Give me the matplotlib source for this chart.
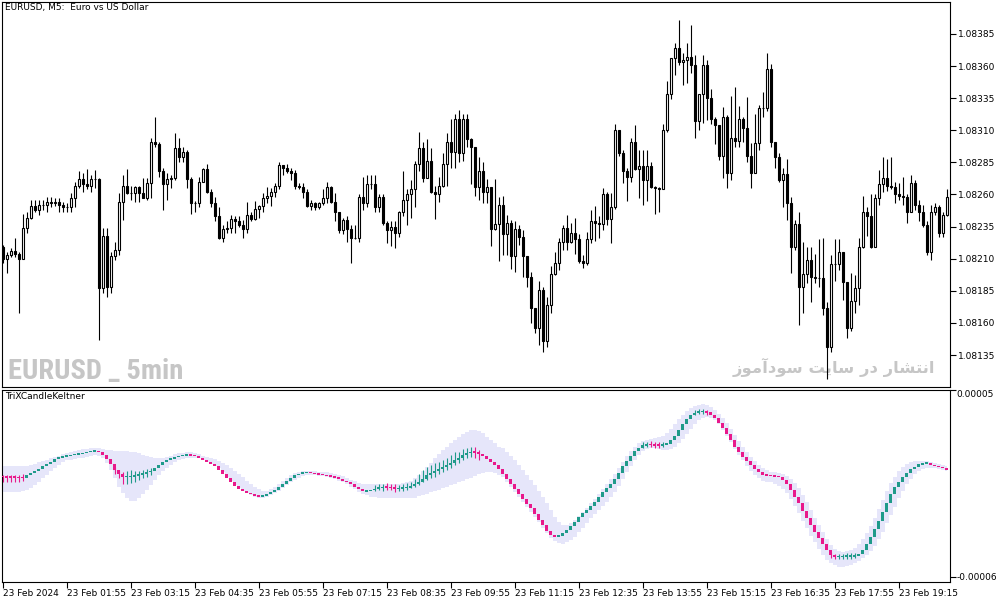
import numpy as np
import matplotlib.pyplot as plt
from matplotlib import font_manager

# EURUSD M5 candles, prices in points above 1.08000 (1 point = 0.00001)
first_open = 219
close_pts = [210, 213, 216, 214, 210, 234, 242, 251, 248, 252, 252, 254, 253, 254, 252, 250, 250, 257, 267, 272,
             268, 267, 272, 272, 187, 228, 188, 212, 217, 254, 267, 261, 261, 266, 261, 257, 269, 301, 299, 278,
             268, 272, 273, 296, 289, 293, 272, 253, 253, 270, 280, 262, 253, 243, 226, 233, 234, 241, 239, 236,
             233, 244, 241, 249, 251, 257, 259, 262, 267, 283, 281, 278, 277, 267, 266, 262, 251, 253, 250, 253,
             257, 266, 254, 246, 232, 240, 233, 226, 226, 258, 253, 268, 268, 250, 258, 238, 232, 235, 230, 246,
             256, 260, 264, 284, 296, 273, 286, 262, 260, 267, 284, 301, 293, 319, 292, 319, 303, 297, 266, 278,
             262, 266, 233, 237, 252, 229, 238, 212, 233, 227, 212, 196, 172, 156, 186, 146, 174, 198, 207, 223,
             234, 223, 230, 225, 208, 207, 225, 239, 238, 237, 260, 241, 250, 310, 292, 278, 274, 301, 280, 282,
             271, 282, 266, 265, 264, 310, 338, 366, 374, 363, 365, 367, 361, 317, 338, 361, 335, 319, 314, 290,
             320, 277, 304, 302, 319, 312, 290, 277, 300, 327, 327, 358, 301, 289, 271, 276, 253, 219, 237, 188,
             198, 209, 196, 195, 195, 172, 141, 206, 206, 215, 192, 156, 177, 187, 219, 246, 243, 219, 257, 268,
             273, 267, 266, 260, 259, 258, 246, 269, 252, 246, 236, 215, 246, 250, 230, 244, 258]
high_pts = [221, 215, 218, 226, 215, 245, 246, 256, 256, 256, 256, 258, 258, 257, 257, 254, 253, 261, 270, 278,
            277, 280, 275, 279, 273, 234, 234, 215, 223, 261, 275, 280, 267, 267, 267, 273, 273, 304, 320, 301,
            281, 277, 275, 308, 304, 297, 295, 274, 255, 274, 281, 284, 264, 258, 250, 236, 239, 244, 243, 243,
            240, 254, 246, 255, 252, 261, 266, 265, 269, 285, 283, 284, 281, 279, 269, 269, 264, 256, 254, 254,
            264, 270, 267, 261, 246, 242, 243, 236, 236, 260, 274, 275, 275, 275, 260, 260, 239, 239, 239, 247,
            278, 264, 271, 286, 309, 301, 303, 296, 267, 274, 292, 308, 319, 323, 326, 323, 323, 304, 295, 289,
            285, 272, 266, 272, 258, 259, 244, 240, 239, 236, 232, 212, 200, 168, 193, 188, 180, 204, 215, 226,
            236, 244, 238, 242, 229, 213, 231, 248, 251, 243, 265, 262, 261, 315, 310, 295, 281, 304, 314, 295,
            295, 295, 285, 267, 266, 315, 348, 366, 378, 396, 370, 378, 392, 369, 338, 369, 365, 342, 320, 314,
            328, 322, 337, 344, 329, 320, 336, 300, 323, 330, 340, 370, 362, 301, 292, 281, 288, 258, 240, 246,
            223, 219, 219, 214, 225, 226, 176, 213, 225, 225, 214, 192, 199, 197, 226, 259, 250, 260, 260, 279,
            289, 288, 289, 270, 269, 274, 260, 275, 271, 256, 252, 239, 252, 253, 252, 246, 264]
low_pts = [207, 199, 211, 211, 168, 213, 230, 241, 246, 244, 248, 246, 250, 251, 246, 246, 246, 246, 250, 265,
           262, 264, 262, 265, 147, 183, 180, 183, 209, 213, 240, 260, 256, 254, 254, 257, 256, 257, 297, 274,
           248, 256, 265, 271, 285, 285, 265, 245, 246, 250, 270, 261, 250, 239, 225, 223, 230, 230, 230, 235,
           226, 230, 239, 240, 242, 246, 253, 251, 258, 264, 275, 277, 271, 264, 264, 257, 250, 248, 248, 249,
           252, 253, 253, 239, 230, 229, 223, 207, 225, 223, 248, 250, 264, 246, 246, 236, 222, 220, 218, 227,
           243, 236, 242, 250, 278, 270, 274, 261, 241, 254, 266, 267, 281, 281, 285, 286, 297, 268, 259, 256,
           253, 253, 220, 232, 208, 213, 213, 202, 200, 221, 196, 188, 160, 152, 143, 137, 141, 168, 197, 201,
           217, 217, 222, 214, 207, 203, 205, 222, 224, 226, 232, 236, 222, 249, 290, 269, 255, 270, 279, 257,
           252, 255, 265, 245, 246, 266, 309, 334, 353, 361, 345, 347, 355, 304, 310, 316, 318, 315, 299, 287,
           273, 265, 271, 297, 297, 301, 285, 265, 277, 295, 320, 325, 297, 281, 270, 250, 240, 199, 217, 158,
           168, 191, 176, 191, 188, 166, 116, 137, 193, 201, 178, 148, 154, 168, 174, 218, 228, 218, 225, 252,
           262, 263, 264, 253, 256, 252, 238, 246, 248, 239, 235, 213, 209, 244, 227, 227, 243]

# TriXCandleKeltner, values in units of 1e-6
trix = [-1.0, -1.1, -1.2, -1.3, -1.4, -1.5, -0.2, 1.0, 2.4, 3.5, 5.3, 6.7, 7.8, 9.4, 10.4, 11.0, 11.4, 11.8, 12.2, 12.5,
        12.9, 13.5, 13.9, 14.1, 13.5, 11.8, 9.4, 6.3, 3.0, 0.4, -1.0, -0.9, -0.6, -0.4, 0.4, 1.0, 1.6, 2.3, 3.9, 5.9,
        7.4, 8.8, 9.8, 10.4, 11.2, 11.8, 12.0, 11.8, 11.0, 9.8, 8.8, 7.6, 6.5, 5.1, 2.7, 0.4, -2.0, -4.3, -6.3, -8.0,
        -9.4, -10.6, -11.4, -12.0, -12.4, -12.2, -11.4, -10.0, -8.6, -6.9, -5.1, -3.5, -1.8, -0.2, 0.8, 1.4, 1.6, 1.2, 0.8, 0.4,
        0.0, -0.4, -0.8, -1.4, -2.4, -3.3, -4.3, -5.5, -7.1, -8.4, -9.4, -9.3, -8.8, -8.0, -7.5, -7.1, -7.3, -7.6, -7.9, -7.7,
        -7.5, -7.1, -6.7, -5.5, -4.1, -2.2, 0.0, 1.4, 2.4, 3.5, 4.7, 5.9, 7.3, 8.8, 10.2, 11.8, 12.7, 13.7, 13.3, 12.3,
        11.2, 9.4, 7.8, 5.9, 3.3, 0.4, -2.6, -5.5, -8.4, -11.4, -13.9, -16.9, -19.6, -22.8, -26.3, -29.4, -32.8, -35.1, -36.3, -35.7,
        -34.3, -32.4, -30.0, -27.5, -24.9, -22.6, -20.6, -18.2, -15.7, -13.1, -10.2, -7.5, -5.3, -2.6, 1.2, 5.5, 8.2, 11.4, 14.1, 16.1,
        17.6, 18.0, 17.9, 17.7, 17.6, 17.9, 18.4, 20.4, 23.1, 26.5, 29.8, 32.8, 35.3, 36.7, 37.3, 37.5, 36.9, 35.5, 33.3, 30.8,
        27.4, 24.3, 20.6, 16.7, 13.7, 10.8, 8.2, 5.9, 3.5, 1.6, 0.2, 0.0, -0.4, -0.6, -1.0, -2.9, -5.3, -8.8, -12.8, -16.7,
        -21.2, -25.5, -29.4, -33.3, -37.3, -40.8, -44.1, -47.1, -48.0, -47.9, -47.8, -47.7, -47.6, -47.4, -46.7, -44.1, -40.8, -36.3, -31.8, -27.1,
        -21.6, -16.7, -11.4, -6.9, -3.9, -1.2, 1.4, 3.3, 4.9, 6.3, 6.9, 7.1, 5.9, 5.3, 4.7, 4.1, 3.1]
band_up = [5.3, 5.3, 5.3, 5.3, 5.3, 5.3, 5.3, 5.9, 6.7, 7.4, 8.2, 9.0, 9.8, 10.6, 11.4, 12.1, 12.7, 13.3, 14.1, 14.7,
           15.1, 15.5, 15.7, 15.9, 15.7, 15.3, 14.9, 14.5, 14.3, 14.1, 14.1, 13.9, 13.7, 13.3, 12.7, 11.8, 11.4, 10.8, 10.2, 9.8,
           10.2, 10.8, 11.4, 12.1, 12.7, 13.1, 13.3, 13.3, 12.9, 12.1, 11.4, 10.8, 10.2, 9.4, 8.4, 7.2, 5.9, 4.3, 2.5, 0.6,
           -1.4, -3.3, -5.3, -6.9, -8.4, -9.4, -9.4, -8.4, -6.9, -5.1, -3.3, -1.6, 0.0, 1.2, 2.0, 2.3, 2.5, 2.3, 2.2, 2.0,
           1.8, 1.6, 1.2, 0.6, 0.0, -0.8, -1.8, -2.8, -3.7, -4.7, -5.3, -5.5, -5.5, -5.5, -5.5, -5.3, -5.3, -5.3, -5.3, -5.1,
           -4.9, -4.3, -3.5, -2.0, 0.0, 2.3, 4.7, 7.2, 9.8, 12.1, 14.5, 16.7, 18.6, 20.6, 22.3, 23.9, 25.5, 26.3, 26.5, 25.9,
           24.5, 22.5, 20.6, 18.6, 16.7, 15.7, 13.7, 11.4, 8.8, 5.9, 2.9, 0.0, -2.9, -5.9, -9.4, -12.8, -16.7, -20.6, -24.5, -27.9,
           -29.4, -29.4, -28.4, -26.5, -24.1, -21.6, -19.2, -16.7, -14.1, -11.4, -8.4, -5.5, -2.4, 0.8, 4.3, 7.8, 11.2, 14.1, 16.7, 18.6,
           20.0, 20.8, 21.2, 21.6, 22.2, 23.1, 24.9, 27.1, 29.8, 32.7, 35.3, 37.6, 39.6, 40.8, 41.4, 41.6, 41.2, 40.0, 38.2, 36.1,
           33.3, 30.4, 27.1, 23.5, 20.0, 16.7, 13.7, 10.8, 8.2, 5.9, 3.9, 2.7, 2.0, 1.6, 1.0, 0.4, -0.6, -2.4, -4.9, -7.9,
           -11.8, -16.1, -20.6, -25.1, -29.4, -33.7, -37.7, -41.2, -43.5, -44.7, -45.1, -44.7, -43.9, -42.8, -40.8, -37.9, -34.3, -29.8, -25.1, -20.0,
           -14.7, -9.4, -4.9, -1.0, 2.3, 4.9, 6.5, 7.4, 8.0, 8.2, 8.2, 8.0, 7.4, 6.9, 6.3, 5.7, 5.1]
band_dn = [-9.8, -9.8, -9.8, -9.8, -9.8, -9.6, -8.8, -7.9, -5.9, -3.9, -2.0, 0.0, 2.3, 4.3, 5.9, 7.4, 8.6, 9.0, 9.4, 9.8,
           10.2, 10.8, 11.4, 11.8, 11.4, 9.8, 6.9, 2.9, -2.0, -6.9, -10.8, -13.7, -15.3, -15.3, -13.7, -11.4, -8.8, -5.9, -2.9, 0.0,
           2.3, 4.3, 5.9, 7.4, 8.6, 9.4, 9.8, 10.2, 10.2, 9.8, 8.8, 7.8, 6.7, 5.5, 3.9, 1.6, -1.0, -3.5, -5.9, -7.9,
           -9.4, -10.8, -11.8, -12.8, -13.3, -13.3, -12.8, -11.8, -10.8, -9.4, -7.9, -5.9, -4.3, -2.8, -1.6, -0.6, 0.0, 0.0, -0.2, -0.4,
           -0.6, -1.0, -1.6, -2.4, -3.3, -4.3, -5.5, -6.9, -8.2, -9.8, -11.0, -12.0, -12.8, -13.1, -13.3, -13.3, -13.3, -13.5, -13.7, -13.7,
           -13.7, -13.7, -13.7, -13.3, -12.6, -11.8, -11.0, -10.2, -9.4, -8.6, -7.9, -6.9, -5.9, -5.1, -4.3, -3.5, -2.6, -1.6, -0.4, 0.4,
           1.0, 1.6, 1.6, 1.0, 0.0, -1.0, -3.9, -6.9, -9.8, -12.8, -15.7, -18.6, -21.6, -24.5, -27.9, -31.0, -34.3, -36.9, -38.8, -40.2,
           -40.4, -39.6, -38.3, -36.3, -33.7, -31.0, -28.4, -25.5, -23.2, -20.6, -18.0, -15.7, -13.0, -9.8, -6.3, -2.4, 1.6, 5.3, 8.8, 11.8,
           14.1, 15.3, 15.7, 15.7, 15.3, 14.7, 14.7, 15.3, 16.7, 18.6, 21.2, 23.9, 27.1, 29.8, 32.3, 33.7, 34.1, 33.7, 32.3, 29.8,
           26.5, 23.1, 19.2, 15.3, 11.8, 8.6, 5.5, 2.5, 0.0, -2.0, -3.3, -3.9, -4.3, -5.1, -6.3, -8.2, -10.8, -14.1, -18.0, -22.6,
           -27.1, -31.4, -35.7, -39.6, -43.5, -47.1, -50.0, -52.0, -53.1, -53.9, -53.9, -53.5, -53.0, -52.0, -50.6, -49.0, -47.1, -44.7, -41.6, -37.7,
           -33.3, -28.4, -23.5, -18.6, -13.7, -9.4, -5.5, -2.4, 0.4, 2.3, 3.5, 4.3, 4.3, 3.9, 3.5, 2.9, 2.3]
# visible wicks of the trix candles: bar -> (high, low)
trix_wicks = {
    0: (0.0, -3.9), 1: (0.0, -3.9), 2: (0.0, -3.9), 3: (0.0, -3.9), 4: (0.0, -3.9), 5: (0.4, -3.5),
    28: (4.9, 0.4), 29: (2.9, -2.0), 30: (1.6, -5.5), 31: (2.3, -5.5), 32: (2.7, -4.7), 33: (2.3, -3.9),
    34: (2.3, -2.9), 35: (2.9, -2.0), 36: (3.5, -1.0), 37: (4.3, 0.0),
    93: (-5.9, -9.4), 94: (-5.5, -9.0), 95: (-5.1, -9.4), 96: (-4.7, -8.6), 97: (-5.1, -9.0), 98: (-5.5, -9.8),
    99: (-5.9, -9.4), 100: (-5.5, -9.4), 101: (-4.9, -8.8), 102: (-3.9, -7.9), 103: (-2.4, -6.9), 104: (0.4, -5.9),
    105: (2.9, -3.9), 106: (4.9, -2.9), 107: (5.9, -2.0), 108: (6.9, -1.0), 109: (7.4, 0.4), 110: (8.8, 1.6),
    111: (9.8, 2.9), 112: (11.8, 4.3), 113: (13.7, 5.9), 114: (13.7, 6.9), 115: (15.3, 8.8), 116: (16.1, 9.8),
    117: (16.7, 10.8), 118: (16.3, 9.8), 119: (14.7, 8.8),
    160: (19.2, 16.0), 161: (19.6, 16.4), 162: (19.8, 16.4), 163: (19.4, 16.0), 164: (19.2, 16.0), 165: (19.4, 16.2),
    173: (38.3, 35.1), 174: (38.9, 35.7), 175: (39.1, 35.9), 176: (38.5, 35.3),
    207: (-45.5, -48.7), 208: (-46.4, -49.6), 209: (-46.3, -49.5), 210: (-46.2, -49.4), 211: (-46.1, -49.3),
    212: (-46.0, -49.2), 213: (-45.8, -49.0),
}

time_labels = ['23 Feb 2024', '23 Feb 01:55', '23 Feb 03:15', '23 Feb 04:35', '23 Feb 05:55',
               '23 Feb 07:15', '23 Feb 08:35', '23 Feb 09:55', '23 Feb 11:15', '23 Feb 12:35',
               '23 Feb 13:55', '23 Feb 15:15', '23 Feb 16:35', '23 Feb 17:55', '23 Feb 19:15']
price_ticks = np.arange(135, 386, 25)

TEAL = '#1f9a8a'
PINK = '#e8198b'
BAND = '#e6e6fa'
GREY = '#c6c6c6'

# pick a narrow bold face for the watermark if one is installed
installed = {f.name for f in font_manager.fontManager.ttflist}
narrow = [f for f in ['Roboto Condensed', 'Liberation Sans Narrow', 'DejaVu Sans Condensed',
                      'Open Sans Condensed'] if f in installed]
if narrow:
    wm_kw = dict(family=narrow[0], fontsize=20.5)
else:
    wm_kw = dict(family='DejaVu Sans', fontsize=16)

n = len(close_pts)
x = np.arange(n)
c = np.array(close_pts, float)
o = np.r_[first_open, c[:-1]]
h = np.maximum(np.array(high_pts, float), np.maximum(o, c))
l = np.minimum(np.array(low_pts, float), np.minimum(o, c))

W, H = 1003, 603
fig = plt.figure(figsize=(W / 100, H / 100), dpi=100)
ax1 = fig.add_axes([1.7 / W, 1 - 387 / H, 948.3 / W, 385 / H])
ax2 = fig.add_axes([1.7 / W, 1 - 582 / H, 948.3 / W, 192.5 / H])

# --- price panel
ax1.vlines(x, l, h, color='black', lw=0.8, zorder=2)
ax1.bar(x, np.abs(c - o), bottom=np.minimum(o, c), width=0.6,
        color=np.where(c >= o, 'white', 'black'), edgecolor='black', linewidth=0.8, zorder=3)
ax1.set_xlim(-0.25, 236.8)
ax1.set_ylim(110.1, 409.9)
ax1.yaxis.tick_right()
ax1.set_yticks(price_ticks)
ax1.set_yticklabels([f'{1.08 + p * 1e-5:.5f}' for p in price_ticks])
ax1.set_xticks([])
ax1.tick_params(axis='y', length=4, width=0.8, pad=1.5, labelsize=6.5)

ax1.text(5 / W, 1 - 3 / H, 'EURUSD, M5:  Euro vs US Dollar', transform=fig.transFigure,
         fontsize=6.5, ha='left', va='top')
ax1.text(8 / W, 1 - 379 / H, 'EURUSD _ 5min', transform=fig.transFigure,
         fontweight='bold', color=GREY, ha='left', va='baseline', zorder=1, **wm_kw)
# Persian watermark, written in shaped (presentation) forms, visual order
wm_fa = ('\uFEAF\uFEEE\uFEE3\uFE81\uFEA9\uFEEE\uFEB3 \uFE96\uFEF3\uFE8E\uFEB3 '
         '\uFEAD\uFEA9 \uFEAD\uFE8E\uFEB8\uFE98\uFEE7\uFE8D')
ax1.text(935 / W, 1 - 373 / H, wm_fa, transform=fig.transFigure, fontsize=11.8,
         fontweight='bold', color=GREY, family='DejaVu Sans', ha='right', va='baseline', zorder=1)

# --- TriXCandleKeltner panel
t = np.array(trix)
t_open = np.r_[t[0] + 0.2, t[:-1]]
cols = np.where(t >= t_open, TEAL, PINK)
ax2.fill_between(x, band_dn, band_up, step='mid', color=BAND, lw=0, zorder=1)
wk = sorted(trix_wicks)
ax2.vlines(wk, [trix_wicks[k][1] for k in wk], [trix_wicks[k][0] for k in wk],
           colors=[cols[k] for k in wk], lw=0.8, zorder=2)
body = np.maximum(np.abs(t - t_open), 0.9)
mid = (t + t_open) / 2
ax2.bar(x, body, bottom=mid - body / 2, width=0.65, color=cols, lw=0, zorder=3)
ax2.set_xlim(-0.25, 236.8)
ax2.set_ylim(-62.93, 50.3)
ax2.yaxis.tick_right()
ax2.set_yticks([50, -60])
ax2.set_yticklabels([])
ax2.tick_params(axis='y', length=4, width=0.8)
ytr = ax2.get_yaxis_transform()
ax2.text(1.0065, 50, '0.00005', transform=ytr, fontsize=6.5, ha='left', va='top')
ax2.text(1.0065, -60, '-0.00006', transform=ytr, fontsize=6.5, ha='left', va='center')
ax2.set_xticks(x[::16][:len(time_labels)])
ax2.set_xticklabels(time_labels)
ax2.tick_params(axis='x', length=4, width=0.8, pad=1, labelsize=6.5)
for lbl in ax2.get_xticklabels():
    lbl.set_horizontalalignment('left')
ax2.text(5 / W, 1 - 392 / H, 'TriXCandleKeltner', transform=fig.transFigure,
         fontsize=6.5, ha='left', va='top')

for ax in (ax1, ax2):
    for s in ax.spines.values():
        s.set_linewidth(0.8)

fig.savefig('out.png', dpi=100)
